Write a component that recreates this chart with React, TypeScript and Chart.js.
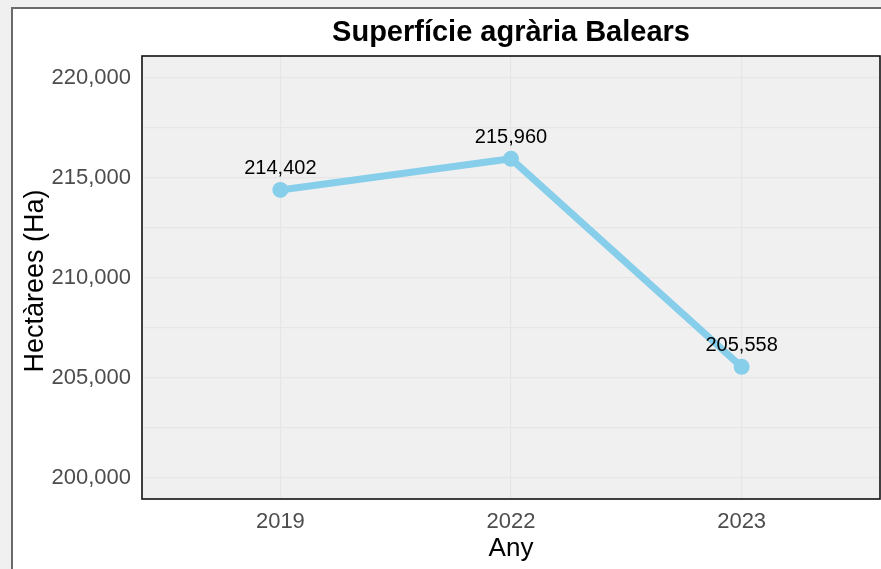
import React, { useEffect, useRef } from "react";
import { Chart, registerables } from "chart.js";

Chart.register(...registerables);

const years: string[] = ["2019", "2022", "2023"];
const hectares: number[] = [214402, 215960, 205558];
const yTickValues: number[] = [200000, 202500, 205000, 207500, 210000, 212500, 215000, 217500, 220000];
const yMin = 198950;
const yMax = 221100;

const TITLE = "Superfície agrària Balears";
const X_TITLE = "Any";
const Y_TITLE = "Hectàrees (Ha)";
const FONT = "'Liberation Sans', Arial, sans-serif";

const fmt = (v: number) => v.toLocaleString("en-US");

const decorPlugin = {
  id: "decor",
  beforeDraw(chart: any) {
    const { ctx, chartArea: a } = chart;
    ctx.save();
    ctx.fillStyle = "#f0f0f0";
    ctx.fillRect(a.left, a.top, a.right - a.left, a.bottom - a.top);
    ctx.restore();
  },
  afterDraw(chart: any) {
    const { ctx, chartArea: a } = chart;
    ctx.save();
    // panel border
    ctx.strokeStyle = "#111";
    ctx.lineWidth = 1.6;
    ctx.strokeRect(a.left, a.top, a.right - a.left, a.bottom - a.top);
    // title
    ctx.fillStyle = "#000";
    ctx.textAlign = "center";
    ctx.textBaseline = "alphabetic";
    ctx.font = `bold 29px ${FONT}`;
    ctx.fillText(TITLE, (a.left + a.right) / 2, 41);
    // x title
    ctx.font = `26px ${FONT}`;
    ctx.fillText(X_TITLE, (a.left + a.right) / 2, 556);
    // y title
    ctx.save();
    ctx.font = `27px ${FONT}`;
    ctx.translate(43, 281);
    ctx.rotate(-Math.PI / 2);
    ctx.fillText(Y_TITLE, 0, 0);
    ctx.restore();
    // data labels
    const meta = chart.getDatasetMeta(0);
    ctx.font = `20px ${FONT}`;
    meta.data.forEach((pt: any, i: number) => {
      ctx.fillText(fmt(hectares[i]), pt.x, pt.y - 16);
    });
    ctx.restore();
  },
};

export default function App() {
  const ref = useRef<HTMLCanvasElement | null>(null);

  useEffect(() => {
    if (!ref.current) return;
    const chart = new Chart(ref.current, {
      type: "line",
      data: {
        datasets: [
          {
            data: hectares.map((v, i) => ({ x: i, y: v })),
            borderColor: "#87ceeb",
            backgroundColor: "#87ceeb",
            borderWidth: 7,
            pointRadius: 8,
            pointBackgroundColor: "#87ceeb",
            pointBorderWidth: 0,
            tension: 0,
          },
        ],
      },
      options: {
        animation: false,
        responsive: false,
        devicePixelRatio: 1,
        layout: { autoPadding: false, padding: { top: 56, right: 1, bottom: 0, left: 0 } },
        plugins: { legend: { display: false }, title: { display: false }, tooltip: { enabled: false } },
        scales: {
          x: {
            type: "linear",
            min: -0.6,
            max: years.length - 1 + 0.6,
            afterBuildTicks: (s: any) => {
              s.ticks = years.map((_, i) => ({ value: i }));
            },
            afterFit: (s: any) => {
              s.height = 70;
            },
            ticks: {
              callback: (v: any) => years[v] ?? "",
              color: "#4d4d4d",
              font: { family: FONT, size: 22 },
              padding: 10,
              maxRotation: 0,
              autoSkip: false,
            },
            grid: { color: "#e6e6e6", lineWidth: 1.2, drawTicks: false },
            border: { display: false },
          },
          y: {
            type: "linear",
            min: yMin,
            max: yMax,
            afterBuildTicks: (s: any) => {
              s.ticks = yTickValues.map((v) => ({ value: v }));
            },
            afterFit: (s: any) => {
              s.width = 142;
            },
            ticks: {
              callback: (v: any) => (v % 5000 === 0 ? fmt(v) : ""),
              color: "#4d4d4d",
              font: { family: FONT, size: 22 },
              padding: 11,
              autoSkip: false,
            },
            grid: { color: "#e6e6e6", lineWidth: 1.2, drawTicks: false },
            border: { display: false },
          },
        },
      },
      plugins: [decorPlugin],
    });
    return () => chart.destroy();
  }, []);

  return (
    <div
      style={{
        position: "fixed",
        left: 0,
        top: 0,
        width: 881,
        height: 569,
        background: "#f0f0f0",
        overflow: "hidden",
      }}
    >
      <div
        style={{
          position: "absolute",
          left: 11,
          top: 7,
          width: 900,
          height: 600,
          border: "2px solid #6b6b6b",
          background: "#fff",
          boxSizing: "border-box",
        }}
      />
      <canvas
        ref={ref}
        width={881}
        height={569}
        style={{ position: "absolute", left: 0, top: 0, width: 881, height: 569 }}
      />
    </div>
  );
}
